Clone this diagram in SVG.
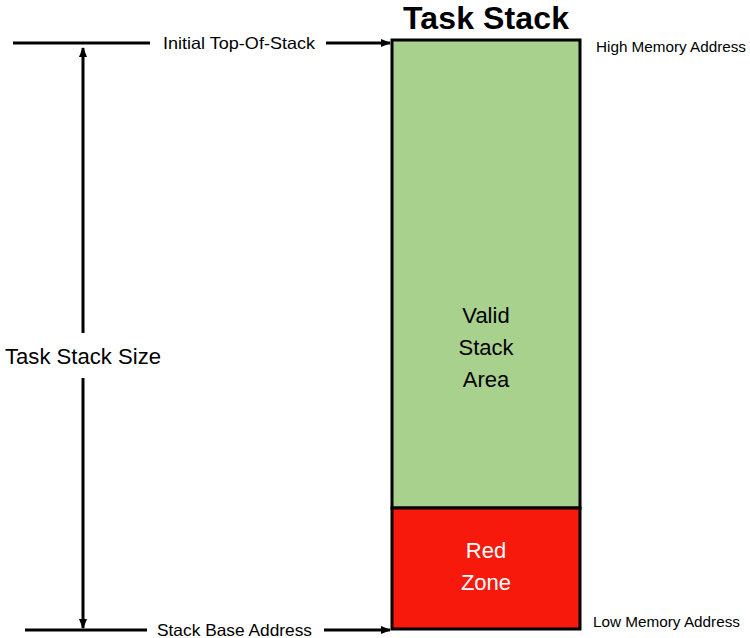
<svg xmlns="http://www.w3.org/2000/svg" width="750" height="638" viewBox="0 0 750 638">
<defs>
<marker id="ah" markerWidth="10" markerHeight="10" refX="9" refY="5" orient="auto" markerUnits="userSpaceOnUse">
<path d="M0,1 L10,5 L0,9 Z" fill="#000"/>
</marker>
<style>
.ln{stroke:#000;stroke-width:3;fill:none}
.t{font-family:"Liberation Sans",Arial,sans-serif;fill:#000}
</style>
</defs>
<rect width="750" height="638" fill="#fff"/>
<text class="t" x="486" y="29" font-size="32" font-weight="bold" text-anchor="middle" textLength="166">Task Stack</text>
<g id="stack">
<rect x="392" y="40" width="188" height="468" fill="#A9D18E" stroke="#000" stroke-width="3"/>
<rect x="392" y="508" width="188" height="121" fill="#F8190D" stroke="#000" stroke-width="3"/>
</g>
<g id="valid">
<text class="t" font-size="22" text-anchor="middle"><tspan x="486" y="323">Valid</tspan><tspan x="486" y="355">Stack</tspan><tspan x="486" y="387">Area</tspan></text>
</g>
<g id="redzone">
<text class="t" font-size="22" text-anchor="middle" style="fill:#fff"><tspan x="486" y="558">Red</tspan><tspan x="486" y="590">Zone</tspan></text>
</g>
<g id="labels">
<text class="t" x="163" y="49" font-size="16.5" textLength="152" lengthAdjust="spacingAndGlyphs">Initial Top-Of-Stack</text>
<text class="t" x="157" y="636" font-size="16.5" textLength="155" lengthAdjust="spacingAndGlyphs">Stack Base Address</text>
<text class="t" x="5" y="364" font-size="22.5" textLength="156" lengthAdjust="spacingAndGlyphs">Task Stack Size</text>
<text class="t" x="596" y="52" font-size="14" textLength="150" lengthAdjust="spacingAndGlyphs">High Memory Address</text>
<text class="t" x="593" y="627" font-size="14" textLength="147" lengthAdjust="spacingAndGlyphs">Low Memory Address</text>
</g>
<g id="connectors">
<line class="ln" x1="13" y1="43" x2="150" y2="43"/>
<line class="ln" x1="326" y1="43" x2="390" y2="43" marker-end="url(#ah)"/>
<line class="ln" x1="25" y1="630" x2="147" y2="630"/>
<line class="ln" x1="324" y1="630" x2="390" y2="630" marker-end="url(#ah)"/>
<line class="ln" x1="83" y1="333" x2="83" y2="48" marker-end="url(#ah)"/>
<line class="ln" x1="83" y1="378" x2="83" y2="628" marker-end="url(#ah)"/>
</g>
</svg>
